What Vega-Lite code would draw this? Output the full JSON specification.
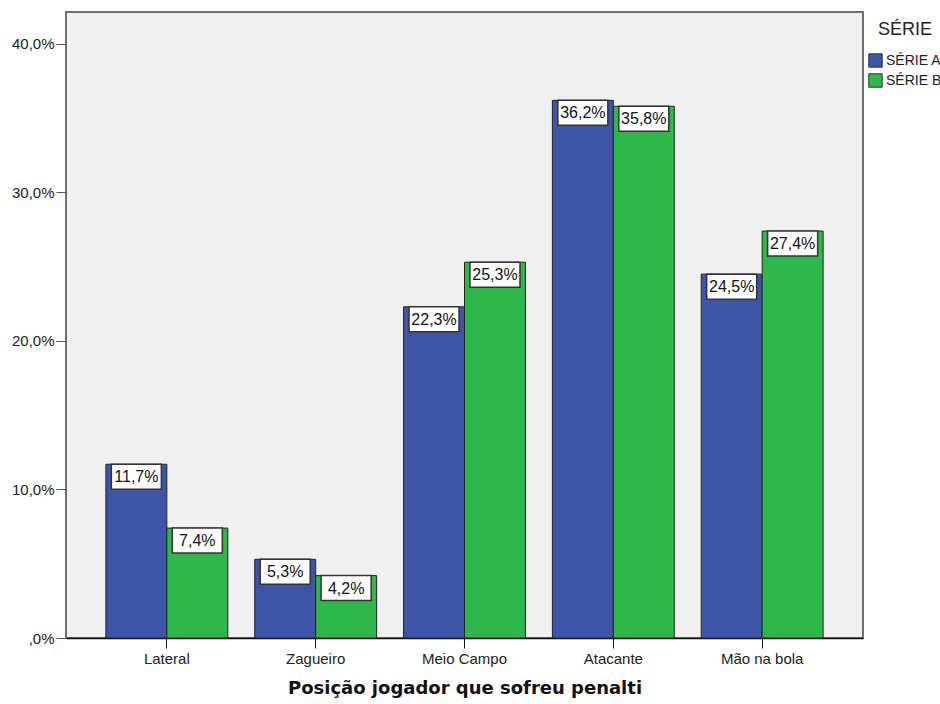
{
  "$schema": "https://vega.github.io/schema/vega-lite/v6.json",
  "autosize": {"type": "none"},
  "padding": {"left": 66, "top": 12, "right": 77, "bottom": 66},
  "width": 797,
  "height": 626,
  "background": "white",
  "config": {
    "view": {"fill": "#f0f0f0", "stroke": "#6e6e6e", "strokeWidth": 2},
    "font": "Liberation Sans"
  },
  "data": {
    "values": [
      {"posicao": "Lateral", "serie": "SÉRIE A", "pct": 11.7, "label": "11,7%"},
      {"posicao": "Lateral", "serie": "SÉRIE B", "pct": 7.4, "label": "7,4%"},
      {"posicao": "Zagueiro", "serie": "SÉRIE A", "pct": 5.3, "label": "5,3%"},
      {"posicao": "Zagueiro", "serie": "SÉRIE B", "pct": 4.2, "label": "4,2%"},
      {"posicao": "Meio Campo", "serie": "SÉRIE A", "pct": 22.3, "label": "22,3%"},
      {"posicao": "Meio Campo", "serie": "SÉRIE B", "pct": 25.3, "label": "25,3%"},
      {"posicao": "Atacante", "serie": "SÉRIE A", "pct": 36.2, "label": "36,2%"},
      {"posicao": "Atacante", "serie": "SÉRIE B", "pct": 35.8, "label": "35,8%"},
      {"posicao": "Mão na bola", "serie": "SÉRIE A", "pct": 24.5, "label": "24,5%"},
      {"posicao": "Mão na bola", "serie": "SÉRIE B", "pct": 27.4, "label": "27,4%"}
    ]
  },
  "encoding": {
    "x": {
      "field": "posicao",
      "type": "nominal",
      "sort": ["Lateral", "Zagueiro", "Meio Campo", "Atacante", "Mão na bola"],
      "scale": {"paddingInner": 0.181, "paddingOuter": 0.268},
      "axis": {
        "title": "Posição jogador que sofreu penalti",
        "titleFont": "DejaVu Sans",
        "titleFontWeight": "bold",
        "titleFontSize": 18,
        "titleColor": "#111",
        "titlePadding": 13,
        "labelAngle": 0,
        "labelFontSize": 15,
        "labelColor": "#222",
        "labelPadding": 3,
        "tickSize": 10,
        "tickColor": "#111",
        "domainColor": "#111",
        "domainWidth": 1.5
      }
    },
    "xOffset": {"field": "serie", "type": "nominal", "scale": {"paddingInner": 0, "paddingOuter": 0}},
    "y": {
      "field": "pct",
      "type": "quantitative",
      "scale": {"domain": [0, 42.15], "nice": false},
      "axis": {
        "title": null,
        "values": [0, 10, 20, 30, 40],
        "labelExpr": "datum.value == 0 ? ',0%' : replace(format(datum.value, '.1f'), '.', ',') + '%'",
        "labelFontSize": 15,
        "labelColor": "#222",
        "labelPadding": 2,
        "tickSize": 10,
        "tickColor": "#555",
        "domain": false,
        "grid": false
      }
    }
  },
  "layer": [
    {
      "mark": {"type": "bar", "stroke": "#222", "strokeWidth": 1},
      "encoding": {
        "color": {
          "field": "serie",
          "type": "nominal",
          "scale": {"domain": ["SÉRIE A", "SÉRIE B"], "range": ["#3e55a7", "#2eb84b"]},
          "legend": {
            "title": "SÉRIE",
            "orient": "none",
            "legendX": 802,
            "legendY": 9,
            "titleFontSize": 18,
            "titleFontWeight": "normal",
            "titleColor": "#222",
            "titleAnchor": "middle",
            "titlePadding": 14,
            "labelFontSize": 14,
            "labelColor": "#222",
            "labelOffset": 3,
            "symbolType": "square",
            "symbolSize": 180,
            "symbolStrokeColor": "#333",
            "symbolStrokeWidth": 1,
            "symbolOpacity": 1,
            "rowPadding": 1
          }
        }
      }
    },
    {
      "mark": {
        "type": "point",
        "shape": "M-1,-0.5H1V0.5H-1Z",
        "size": 2500,
        "filled": true,
        "fill": "white",
        "stroke": "#333",
        "strokeWidth": 1.5,
        "opacity": 1,
        "yOffset": 12.5
      }
    },
    {
      "mark": {
        "type": "text",
        "fontSize": 16,
        "color": "#111",
        "baseline": "middle",
        "align": "center",
        "yOffset": 13
      },
      "encoding": {"text": {"field": "label"}}
    }
  ]
}
